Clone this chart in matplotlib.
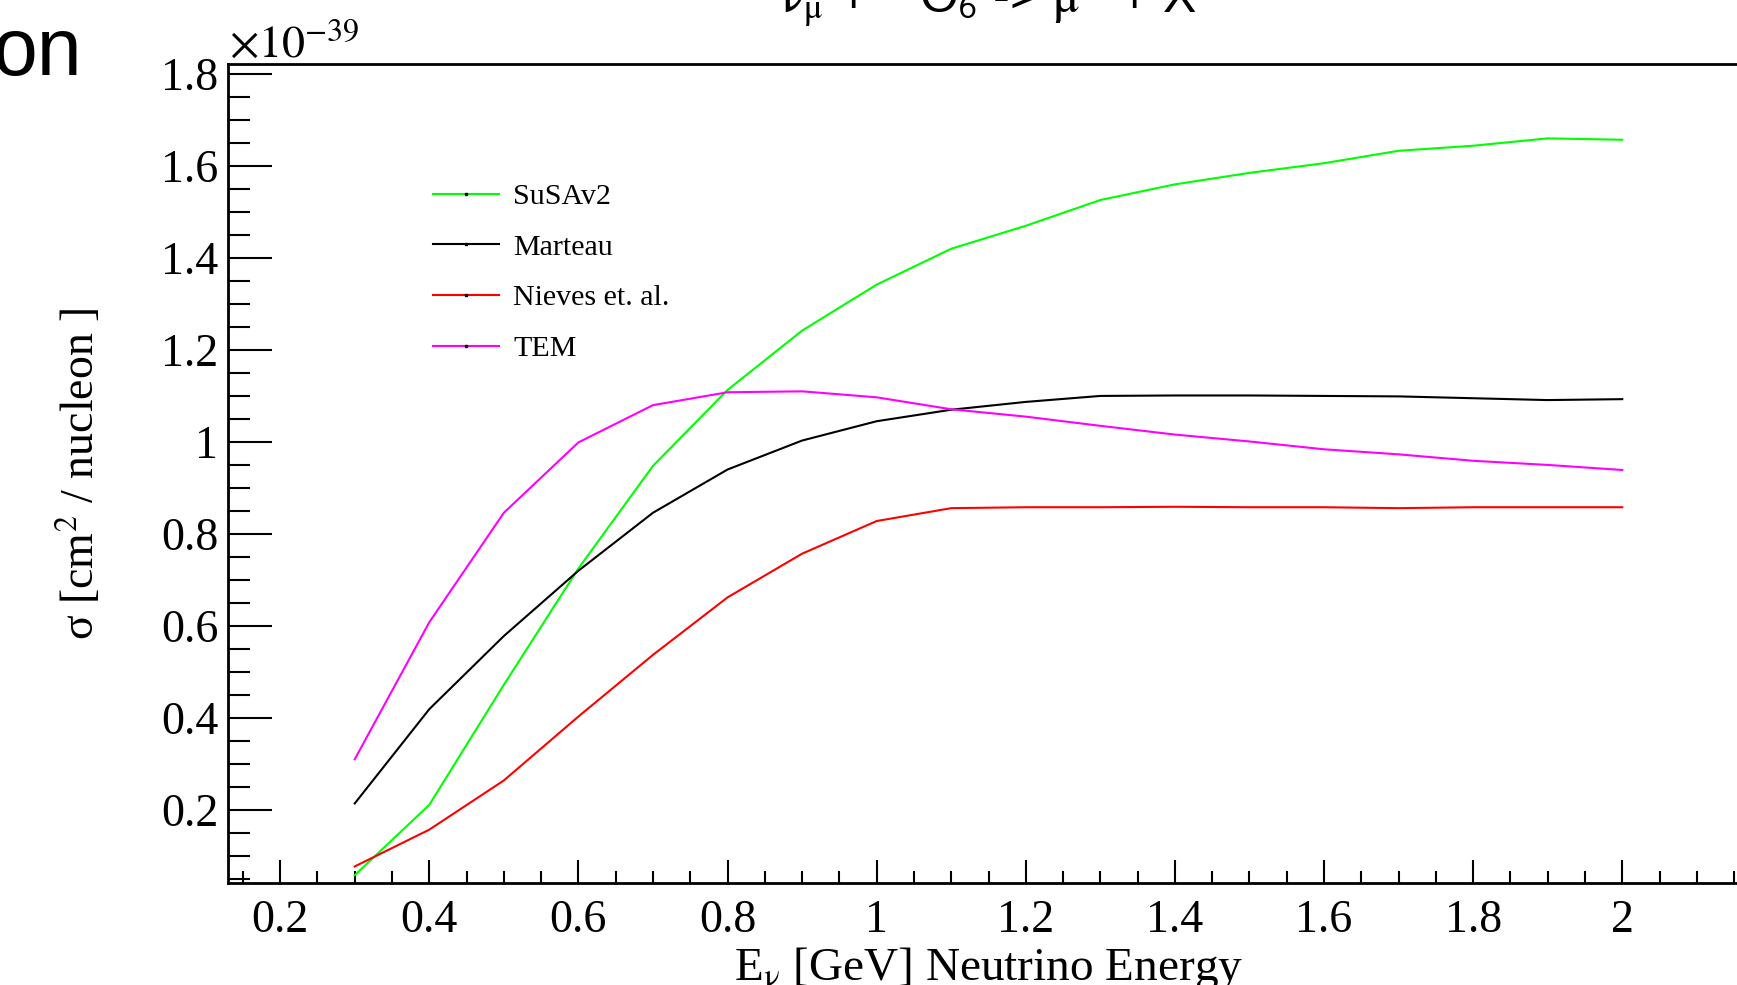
import matplotlib
matplotlib.use('Agg')
import matplotlib.pyplot as plt
from matplotlib.lines import Line2D
from matplotlib.ticker import MultipleLocator, FuncFormatter

plt.rcParams['font.family'] = ['Liberation Serif', 'DejaVu Serif']
plt.rcParams['mathtext.fontset'] = 'stix'

# neutrino energy [GeV]
energy = [0.3, 0.4, 0.5, 0.6, 0.7, 0.8, 0.9, 1.0, 1.1, 1.2,
          1.3, 1.4, 1.5, 1.6, 1.7, 1.8, 1.9, 2.0]

# cross sections in units of 1e-39 cm^2 / nucleon
susav2 = [0.058, 0.211, 0.472, 0.725, 0.948, 1.113, 1.242, 1.342, 1.420, 1.470,
          1.526, 1.560, 1.585, 1.606, 1.633, 1.644, 1.660, 1.657]
marteau = [0.214, 0.419, 0.578, 0.720, 0.846, 0.940, 1.003, 1.045, 1.070, 1.087,
           1.100, 1.101, 1.101, 1.100, 1.099, 1.095, 1.091, 1.093]
nieves = [0.077, 0.157, 0.264, 0.403, 0.537, 0.662, 0.757, 0.828, 0.856, 0.858,
          0.858, 0.859, 0.858, 0.858, 0.856, 0.858, 0.858, 0.858]
tem = [0.310, 0.608, 0.846, 0.999, 1.080, 1.108, 1.110, 1.097, 1.071, 1.055,
       1.035, 1.016, 1.001, 0.984, 0.973, 0.959, 0.950, 0.939]

models = ['SuSAv2', 'Marteau', 'Nieves et. al.', 'TEM']
colors = ['#00ff00', 'black', '#ff0000', '#ff00ff']
series = [susav2, marteau, nieves, tem]

W, H = 1737, 985
fig = plt.figure(figsize=(W / 100, H / 100), dpi=100)
ax = fig.add_axes([228 / W, 1 - 883 / H, (1749 - 228) / W, (883 - 64) / H])

for vals, c in zip(series, colors):
    ax.plot(energy, vals, color=c, lw=1.5)

ax.set_xlim(0.13, 2.17)
ax.set_ylim(0.041, 1.8217)

for s in ['left', 'bottom', 'top']:
    ax.spines[s].set_linewidth(2)
ax.spines['right'].set_visible(False)

ax.xaxis.set_major_locator(MultipleLocator(0.2))
ax.xaxis.set_minor_locator(MultipleLocator(0.05))
ax.yaxis.set_major_locator(MultipleLocator(0.2))
ax.yaxis.set_minor_locator(MultipleLocator(0.05))
fmt = FuncFormatter(lambda v, p: '%g' % round(v, 2))
ax.xaxis.set_major_formatter(fmt)
ax.yaxis.set_major_formatter(fmt)

ax.tick_params(which='both', direction='in', top=False, right=False, width=1.5)
ax.tick_params(labelsize=33)
ax.tick_params(axis='x', which='major', length=16.5, pad=12)
ax.tick_params(axis='x', which='minor', length=8.6)
ax.tick_params(axis='y', which='major', length=32, pad=7)
ax.tick_params(axis='y', which='minor', length=16)

ax.set_xlabel(r'E$_{\mathrm{\nu}}$ [GeV] Neutrino Energy', fontsize=34, va='baseline')
ax.xaxis.set_label_coords(0.5, (883 - 980) / 819)
ax.set_ylabel('σ [cm$^{2}$ / nucleon ]', fontsize=33, va='center')
ax.yaxis.set_label_coords((80 - 228) / 1521, 0.5)

# exponent label in ROOT style
fig.text(229 / W, 1 - 57 / H, r'$\times10^{-39}$', fontsize=33, ha='left', va='baseline')

# legend
handles = [Line2D([], [], color=c, lw=1.5, marker='s', markersize=1.5,
                  markerfacecolor='k', markeredgecolor='k') for c in colors]
ax.legend(handles, models, loc='upper left', bbox_to_anchor=(433 / W, 1 - 183 / H),
          bbox_transform=fig.transFigure, frameon=False, fontsize=21.6, numpoints=1,
          handlelength=2.2, handletextpad=0.47, labelspacing=0.79,
          borderpad=0, borderaxespad=0)

# cut-off title and slide text
fig.text(988 / W, 1 - 13 / H,
         r'$\mathrm{\nu}_{\mathrm{\mu}}$ + $^{\mathsf{16}}$O$_{\mathsf{6}}$ -> $\mathrm{\mu}^{-}$ + X',
         fontsize=36, family='Liberation Sans', ha='center', va='baseline')
fig.text(82 / W, 1 - 75 / H, 'on', fontsize=58, family='Liberation Sans',
         ha='right', va='baseline')

fig.savefig('out.png', dpi=100)
